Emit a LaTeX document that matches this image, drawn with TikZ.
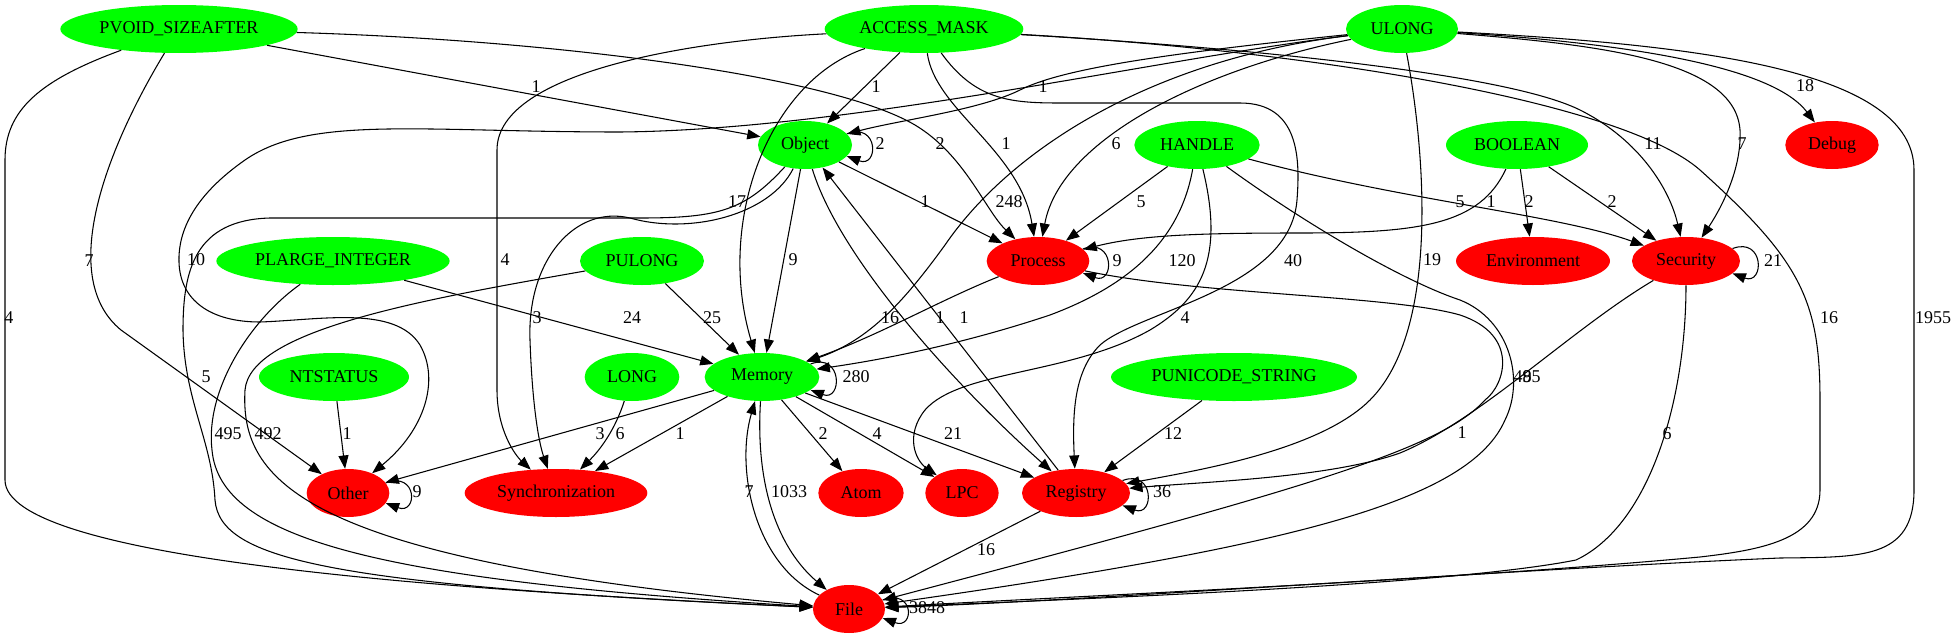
\documentclass[tikz,border=0pt]{standalone}
\usepackage{fontspec}
\setmainfont{Liberation Serif}
\usetikzlibrary{arrows.meta,shapes.geometric}

\begin{document}
\begin{tikzpicture}[x=0.75pt,y=-0.75pt,
  every node/.style={font=\fontsize{13.5pt}{15pt}\selectfont},
  gv/.style={ellipse,inner sep=0pt,minimum height=36pt},
  src/.style={gv,fill=green},
  dst/.style={gv,fill=red},
  link/.style={-{Triangle[length=10pt,width=7.5pt]},line width=0.8pt},
  lbl/.style={inner sep=0pt}]
  \useasboundingbox (0,0) rectangle (1957,639);
  % types
  \node[src,minimum width=178pt] (pvoid) at (179,29) {PVOID\_SIZEAFTER};
  \node[src,minimum width=149pt] (amask) at (924,29) {ACCESS\_MASK};
  \node[src,minimum width=84pt] (ulong) at (1402,29) {ULONG};
  \node[src,minimum width=70.5pt] (object) at (805,145) {Object};
  \node[src,minimum width=94pt] (handle) at (1197,145) {HANDLE};
  \node[src,minimum width=106.5pt] (boolean) at (1517,145) {BOOLEAN};
  \node[src,minimum width=175pt] (plarge) at (333,261) {PLARGE\_INTEGER};
  \node[src,minimum width=93pt] (pulong) at (642,261) {PULONG};
  \node[src,minimum width=112.5pt] (ntstatus) at (334,377) {NTSTATUS};
  \node[src,minimum width=71pt] (long) at (632,377) {LONG};
  \node[src,minimum width=86pt] (memory) at (762,377) {Memory};
  \node[src,minimum width=184.5pt] (punicode) at (1234,377) {PUNICODE\_STRING};
  % categories
  \node[dst,minimum width=70pt] (debug) at (1832,145) {Debug};
  \node[dst,minimum width=77pt] (process) at (1038,261) {Process};
  \node[dst,minimum width=115.5pt] (environment) at (1533,261) {Environment};
  \node[dst,minimum width=81pt] (security) at (1686,261) {Security};
  \node[dst,minimum width=62pt] (other) at (348,493) {Other};
  \node[dst,minimum width=137pt] (sync) at (556,493) {Synchronization};
  \node[dst,minimum width=64pt] (atom) at (861,493) {Atom};
  \node[dst,minimum width=55pt] (lpc) at (962,493) {LPC};
  \node[dst,minimum width=81pt] (registry) at (1076,493) {Registry};
  \node[dst,minimum width=54pt] (file) at (849,609) {File};

  % PVOID_SIZEAFTER
  \draw[link] (pvoid) .. controls (40,80) and (5,110) .. (5,160) -- (5,480) .. controls (5,560) and (450,590) .. (file);
  \draw[link] (pvoid) .. controls (100,160) and (60,280) .. (121,330) -- (other);
  \draw[link] (pvoid) -- (object);
  \draw[link] (pvoid) .. controls (550,40) and (830,75) .. (915,125) .. controls (965,155) and (985,210) .. (process);
  % ACCESS_MASK
  \draw[link] (amask) -- (object);
  \draw[link] (amask) .. controls (935,110) and (1020,150) .. (process);
  \draw[link] (amask) .. controls (770,80) and (715,220) .. (memory);
  \draw[link] (amask) .. controls (700,40) and (497,70) .. (497,150) -- (497,390) .. controls (497,430) and (515,455) .. (sync);
  \draw[link] (amask) .. controls (975,100) and (1010,103) .. (1060,103) -- (1240,103) .. controls (1300,103) and (1300,160) .. (1297,200)
    .. controls (1290,290) and (1140,310) .. (1100,345) .. controls (1075,370) and (1072,410) .. (registry);
  \draw[link] (amask) .. controls (1200,45) and (1500,70) .. (1580,110) .. controls (1640,140) and (1670,190) .. (security);
  \draw[link] (amask) .. controls (1300,50) and (1620,100) .. (1700,170) .. controls (1800,260) and (1820,300) .. (1820,400) -- (1820,490)
    .. controls (1820,540) and (1760,550) .. (1700,557) .. controls (1450,580) and (1100,595) .. (file);
  % ULONG
  \draw[link] (ulong) .. controls (1650,45) and (1775,70) .. (debug);
  \draw[link] (ulong) .. controls (1600,45) and (1735,60) .. (1740,130) .. controls (1742,170) and (1720,210) .. (security);
  \draw[link] (ulong) .. controls (1700,45) and (1914,70) .. (1914,170) -- (1914,490) .. controls (1914,560) and (1860,557) .. (1780,558)
    .. controls (1500,570) and (1100,600) .. (file);
  \draw[link] (ulong) .. controls (1425,150) and (1440,330) .. (1370,400) .. controls (1320,450) and (1200,470) .. (registry);
  \draw[link] (ulong) .. controls (1200,70) and (1060,140) .. (process);
  \draw[link] (ulong) .. controls (1150,60) and (1010,150) .. (945,245) .. controls (905,300) and (870,340) .. (memory);
  \draw[link] (ulong) .. controls (1150,55) and (1060,70) .. (1020,90) .. controls (980,110) and (900,120) .. (object);
  \draw[link] (ulong) .. controls (1150,60) and (850,130) .. (620,132) .. controls (420,132) and (310,115) .. (245,160)
    .. controls (195,195) and (178,230) .. (179,262) .. controls (180,300) and (210,322) .. (260,322)
    .. controls (320,320) and (395,305) .. (420,345) .. controls (440,380) and (425,430) .. (other);
  % Object
  \draw[link] (object) -- (process);
  \draw[link] (object) -- (memory);
  \draw[link] (object) .. controls (840,260) and (960,390) .. (registry);
  \draw[link] (registry) -- (object);
  \draw[link] (object) .. controls (770,215) and (690,235) .. (630,218) .. controls (575,205) and (527,260) .. (530,340)
    .. controls (532,400) and (538,440) .. (sync);
  \draw[link] (object) .. controls (745,210) and (720,218) .. (640,218) -- (270,218) .. controls (195,220) and (183,270) .. (183,330)
    .. controls (184,400) and (212,440) .. (215,500) .. controls (220,560) and (330,585) .. (file);
  % Process
  \draw[link] (process) .. controls (940,300) and (880,335) .. (memory);
  \draw[link] (process) .. controls (1200,295) and (1390,295) .. (1460,315) .. controls (1520,335) and (1505,385) .. (1485,400)
    .. controls (1440,450) and (1300,490) .. (file);
  % HANDLE
  \draw[link] (handle) -- (process);
  \draw[link] (handle) .. controls (1400,200) and (1560,215) .. (security);
  \draw[link] (handle) .. controls (1180,240) and (1130,285) .. (1050,315) .. controls (960,345) and (880,360) .. (memory);
  \draw[link] (handle) .. controls (1225,260) and (1200,300) .. (1150,330) .. controls (1070,375) and (960,370) .. (925,410)
    .. controls (905,435) and (915,460) .. (lpc);
  \draw[link] (handle) .. controls (1300,220) and (1400,280) .. (1460,300) .. controls (1510,320) and (1525,380) .. (1505,420)
    .. controls (1470,500) and (1300,545) .. (file);
  % BOOLEAN
  \draw[link] (boolean) .. controls (1480,225) and (1420,233) .. (1300,233) .. controls (1200,233) and (1140,235) .. (process);
  \draw[link] (boolean) -- (environment);
  \draw[link] (boolean) -- (security);
  % PLARGE_INTEGER, PULONG, NTSTATUS, LONG
  \draw[link] (plarge) -- (memory);
  \draw[link] (plarge) .. controls (250,320) and (205,390) .. (212,450) .. controls (220,540) and (380,580) .. (file);
  \draw[link] (pulong) -- (memory);
  \draw[link] (pulong) .. controls (420,300) and (250,330) .. (245,390) .. controls (240,480) and (300,560) .. (file);
  \draw[link] (ntstatus) -- (other);
  \draw[link] (long) .. controls (615,430) and (600,450) .. (sync);
  % Memory
  \draw[link] (memory) -- (other);
  \draw[link] (memory) -- (sync);
  \draw[link] (memory) -- (atom);
  \draw[link] (memory) -- (lpc);
  \draw[link] (memory) -- (registry);
  \draw[link] (memory) .. controls (755,490) and (780,550) .. (file);
  \draw[link] (file) .. controls (755,565) and (735,470) .. (memory);
  % PUNICODE_STRING, Security, Registry
  \draw[link] (punicode) -- (registry);
  \draw[link] (security) .. controls (1570,330) and (1480,420) .. (1400,453) .. controls (1330,478) and (1200,482) .. (registry);
  \draw[link] (security) .. controls (1686,400) and (1650,525) .. (1576,560) .. controls (1450,585) and (1100,598) .. (file);
  \draw[link] (registry) -- (file);
  % self loops
  \foreach \n in {object,process,memory,security,other,registry,file}
    \draw[link] (\n.15) .. controls +(32,-12) and +(32,12) .. (\n.-15);
  % edge labels
  \foreach \x/\y/\t [count=\i] in {9/318/4,89/261/7,536/87/1,940/144/2,
      876/87/1,1006/144/1,737/202/17,505/260/4,1293/261/40,1653/144/11,1829/318/16,
      1805/86/18,1742/144/7,1933/318/1955,1432/260/19,1116/144/6,1009/202/248,1043/87/1,196/260/10,
      206/377/5,537/318/3,880/144/2,925/202/1,793/260/9,890/318/16,964/318/1,
      1117/261/9,940/318/1,1462/433/1,
      1141/202/5,1460/202/5,1182/261/120,1185/318/4,1527/377/485,1527/377/9,
      1491/202/1,1529/202/2,1612/202/2,
      632/318/24,228/434/495,712/318/25,268/434/492,
      347/434/1,620/434/6,600/434/3,680/434/1,856/377/280,823/434/2,877/434/4,953/434/21,789/492/1033,749/492/7,
      1173/434/12,1773/261/21,1667/434/6,1162/492/36,986/550/16,417/492/9,927/608/3848}
    \node[lbl] (lab\i) at (\x,\y) {\t};
\end{tikzpicture}
\end{document}
